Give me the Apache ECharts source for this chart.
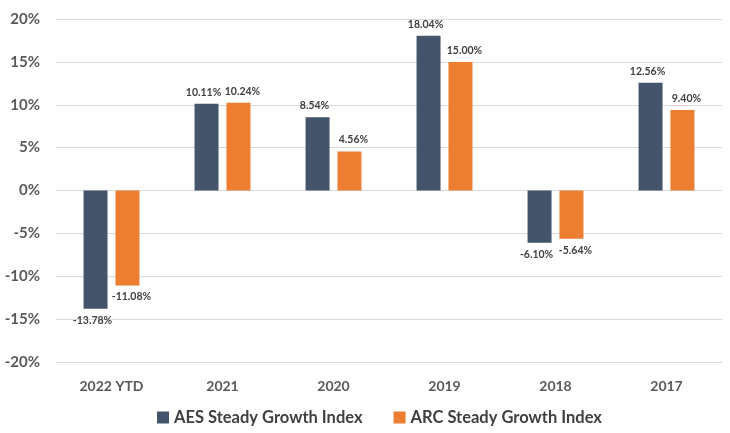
<!DOCTYPE html>
<html><head><meta charset="utf-8">
<script src="https://cdn.jsdelivr.net/npm/echarts@6/dist/echarts.min.js"></script>
<style>html,body{margin:0;padding:0;background:#fff}#c{width:730px;height:433px}</style>
</head><body><div id="c"></div>
<script>
const categories = ['2022 YTD', '2021', '2020', '2019', '2018', '2017'];
const aesValues = [-13.78, 10.11, 8.54, 18.04, -6.10, 12.56];
const arcValues = [-11.08, 10.24, 4.56, 15.00, -5.64, 9.40];
const seriesNames = ['AES Steady Growth Index', 'ARC Steady Growth Index'];
const yTicks = [-20, -15, -10, -5, 0, 5, 10, 15, 20];

const font = 'Lato, "Open Sans", sans-serif';
const chart = echarts.init(document.getElementById('c'));
function toData(arr, dx) {
  return arr.map(v => ({ value: v, label: { position: v < 0 ? 'bottom' : 'top', offset: [dx, 0] } }));
}
const labelCfg = {
  show: true, distance: 6,
  formatter: p => p.value.toFixed(2) + '%',
  fontFamily: font, fontWeight: 'bold', fontSize: 10.5, color: '#404040'
};
chart.setOption({
  animation: false,
  grid: { left: 56, right: 8, top: 19, bottom: 71, containLabel: false },
  legend: {
    bottom: 2, left: 152, itemWidth: 12, itemHeight: 12, itemGap: 31,
    icon: 'rect',
    textStyle: { fontFamily: font, fontWeight: 'bold', fontSize: 16.5, color: '#404040' },
    data: seriesNames
  },
  xAxis: {
    type: 'category', data: categories,
    axisLine: { show: false }, axisTick: { show: false },
    axisLabel: { fontFamily: font, fontWeight: 'bold', fontSize: 14, color: '#595959', margin: 17 }
  },
  yAxis: {
    type: 'value', min: yTicks[0], max: yTicks[yTicks.length - 1], interval: 5,
    axisLabel: { formatter: v => v + '%', fontFamily: font, fontWeight: 'bold', fontSize: 15, color: '#595959', margin: 16 },
    splitLine: { lineStyle: { color: '#d9d9d9', width: 1 } },
    axisLine: { show: false }, axisTick: { show: false }
  },
  series: [
    {
      name: seriesNames[0], type: 'bar', data: toData(aesValues, -3), barWidth: 24, barGap: '33%',
      itemStyle: { color: '#44546A' },
      label: labelCfg
    },
    {
      name: seriesNames[1], type: 'bar', data: toData(arcValues, 4), barWidth: 24,
      itemStyle: { color: '#ED7D31' },
      label: labelCfg
    }
  ]
});
</script></body></html>
